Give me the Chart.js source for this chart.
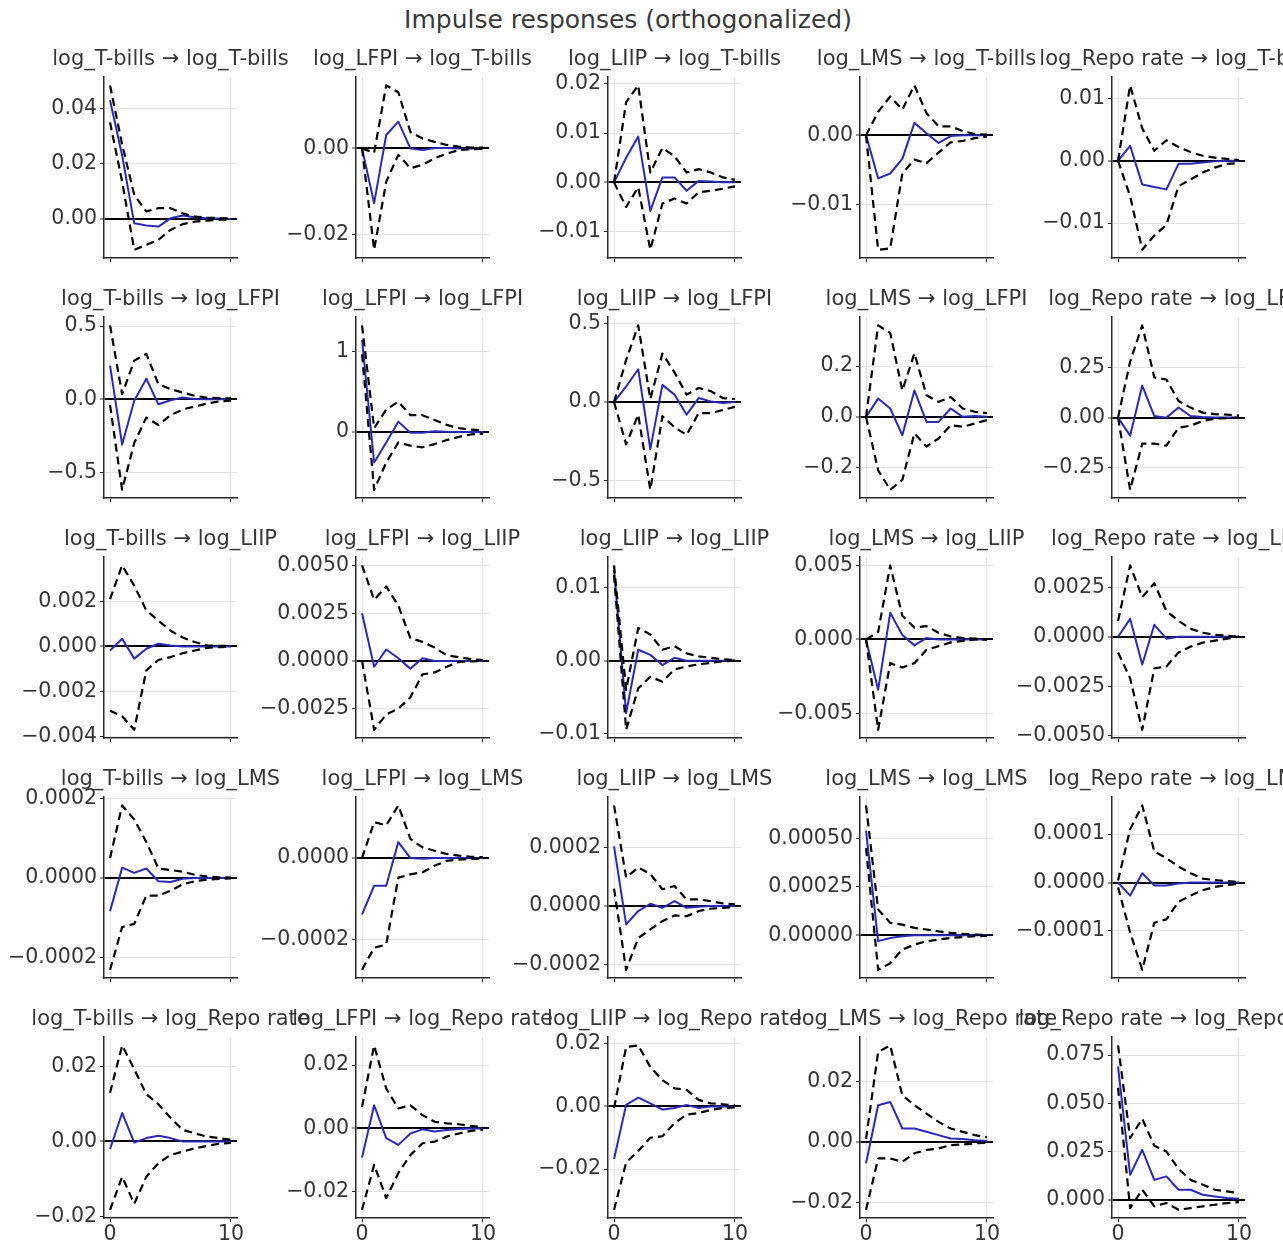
<!DOCTYPE html>
<html>
<head>
<meta charset="utf-8">
<script src="https://cdn.jsdelivr.net/npm/chart.js@4.4.1/dist/chart.umd.min.js"></script>
<style>
  html, body { margin: 0; padding: 0; background: #fff; overflow: hidden; width: 1283px; height: 1245px; }
  #wrap { position: relative; width: 1283px; height: 1245px; overflow: hidden; background: #fff; }
  #suptitle { position: absolute; left: 0; top: 5px; width: 1256px; text-align: center;
              font-family: 'DejaVu Sans', sans-serif; font-size: 25px; line-height: 30px; color: #3a3a3a; }
  canvas { position: absolute; }
</style>
</head>
<body>
<div id="wrap"><div id="suptitle">Impulse responses (orthogonalized)</div></div>
<script>
// ---------- DATA ----------
const variables = ['log_T-bills', 'log_LFPI', 'log_LIIP', 'log_LMS', 'log_Repo rate'];
const steps = [0, 1, 2, 3, 4, 5, 6, 7, 8, 9, 10];
const xTicks = [0, 10];

// Each array below: one response variable, one row per impulse (T-bills, LFPI, LIIP, LMS, Repo rate)
const irf_Tbills = [
  [0.043, 0.023, -0.0016, -0.0024, -0.0028, 0.0002, 0.0012, 0.0006, 0.0002, 0.0001, 0],
  [0, -0.0127, 0.0031, 0.0062, 0.0, -0.0004, 0.0001, 0.0001, 0, 0, 0],
  [0, 0.005, 0.0093, -0.0058, 0.001, 0.001, -0.0017, 0.0003, 0.0002, 0, 0],
  [0, -0.0062, -0.0055, -0.0034, 0.0018, 0.0003, -0.0011, -0.0001, 0, 0, 0],
  [0, 0.0024, -0.0038, -0.0042, -0.0046, -0.0005, -0.0005, -0.0003, -0.0001, 0, 0]
];
const lower_Tbills = [
  [0.035, 0.0135, -0.0112, -0.0094, -0.0076, -0.004, -0.0019, -0.001, -0.0006, -0.0003, -0.0002],
  [0, -0.0235, -0.0077, -0.0015, -0.0046, -0.0038, -0.0023, -0.0012, -0.0004, -0.0002, -0.0001],
  [0, -0.005, -0.001, -0.0137, -0.0043, -0.0033, -0.0043, -0.002, -0.0017, -0.0013, -0.0008],
  [0, -0.0165, -0.0163, -0.0055, -0.0035, -0.004, -0.0025, -0.001, -0.0008, -0.0004, -0.0002],
  [0, -0.0057, -0.0143, -0.012, -0.0103, -0.0041, -0.003, -0.0019, -0.0011, -0.0005, -0.0004]
];
const upper_Tbills = [
  [0.0484, 0.027, 0.0087, 0.0027, 0.0039, 0.0039, 0.002, 0.0008, 0.0005, 0.0003, 0.0002],
  [0, -0.001, 0.0146, 0.013, 0.0038, 0.0023, 0.0015, 0.0008, 0.0004, 0.0002, 0.0002],
  [0, 0.0163, 0.0197, 0.002, 0.007, 0.0053, 0.002, 0.0027, 0.002, 0.001, 0.0005],
  [0, 0.0034, 0.0056, 0.0037, 0.0072, 0.0032, 0.0013, 0.0013, 0.0006, 0.0002, 0.0001],
  [0, 0.0121, 0.0052, 0.0016, 0.0033, 0.0022, 0.0014, 0.0008, 0.0005, 0.0003, 0.0001]
];

const irf_LFPI = [
  [0.23, -0.31, -0.01, 0.14, -0.035, -0.007, 0.011, 0.002, 0, 0, 0],
  [1.15, -0.38, -0.13, 0.13, -0.01, -0.01, 0.01, 0.003, 0, 0, 0],
  [0, 0.1, 0.21, -0.3, 0.11, 0.048, -0.08, 0.026, 0.004, -0.006, 0],
  [0, 0.072, 0.033, -0.072, 0.104, -0.02, -0.02, 0.033, 0, 0.003, 0],
  [0, -0.09, 0.16, 0.008, 0, 0.05, 0.008, 0.003, 0, 0, 0]
];
const lower_LFPI = [
  [-0.04, -0.62, -0.3, -0.126, -0.177, -0.11, -0.07, -0.05, -0.03, -0.015, -0.01],
  [0.97, -0.72, -0.38, -0.13, -0.17, -0.19, -0.15, -0.1, -0.06, -0.03, -0.02],
  [0, -0.27, -0.08, -0.56, -0.09, -0.16, -0.21, -0.07, -0.07, -0.05, -0.03],
  [0, -0.21, -0.287, -0.248, -0.065, -0.117, -0.085, -0.033, -0.039, -0.026, -0.013],
  [0, -0.36, -0.13, -0.13, -0.14, -0.05, -0.04, -0.017, -0.005, -0.003, 0]
];
const upper_LFPI = [
  [0.505, 0.034, 0.264, 0.31, 0.103, 0.069, 0.046, 0.023, 0.011, 0.007, 0.005],
  [1.33, 0.05, 0.28, 0.38, 0.21, 0.21, 0.15, 0.09, 0.05, 0.03, 0.02],
  [0, 0.27, 0.49, 0.02, 0.31, 0.19, 0.048, 0.09, 0.07, 0.026, 0.02],
  [0, 0.36, 0.33, 0.104, 0.25, 0.085, 0.059, 0.078, 0.033, 0.02, 0.015],
  [0, 0.28, 0.46, 0.2, 0.19, 0.083, 0.05, 0.025, 0.017, 0.015, 0.01]
];

const irf_LIIP = [
  [-0.00018, 0.00034, -0.00054, -0.0001, 0.00012, 0.00004, 0, 0, 0, 0, 0],
  [0.0025, -0.0003, 0.0006, 0.00014, -0.0004, 0.00014, 0, 0, 0, 0, 0],
  [0.0125, -0.0072, 0.0015, 0.0008, -0.0006, 0.0004, 0, 0, 0, 0, 0],
  [0, -0.0034, 0.0018, 0.0003, -0.0004, 0.0001, 0, 0, 0, 0, 0],
  [0, 0.0009, -0.0014, 0.0006, -0.0001, 0, 0, 0, 0, 0, 0]
];
const lower_LIIP = [
  [-0.00285, -0.0031, -0.0037, -0.00106, -0.0006, -0.00047, -0.0003, -0.00018, -0.00006, -0.00003, -0.00002],
  [0, -0.0036, -0.0028, -0.0025, -0.0019, -0.0007, -0.0006, -0.0003, -0.00005, -0.00002, 0],
  [0.0118, -0.0095, -0.0038, -0.0022, -0.0029, -0.0012, -0.0008, -0.0005, -0.0003, -0.0001, 0],
  [0, -0.0061, -0.0016, -0.0019, -0.0016, -0.0007, -0.00045, -0.0002, -0.0001, 0, 0],
  [-0.0008, -0.0021, -0.0047, -0.0016, -0.0015, -0.0008, -0.0005, -0.0003, -0.0002, -0.0001, 0]
];
const upper_LIIP = [
  [0.0021, 0.0036, 0.0027, 0.0016, 0.00115, 0.0007, 0.0004, 0.0002, 0.00005, 0.00003, 0.00002],
  [0.005, 0.0032, 0.0039, 0.0029, 0.0012, 0.001, 0.0007, 0.0003, 0.0002, 0.0001, 0.00005],
  [0.0131, -0.004, 0.0045, 0.0036, 0.0015, 0.002, 0.001, 0.0006, 0.0004, 0.0002, 0.0001],
  [0, 0.0005, 0.005, 0.0016, 0.0008, 0.0009, 0.00045, 0.0002, 0.0001, 0.00005, 0],
  [0.0008, 0.0036, 0.002, 0.0027, 0.0013, 0.0008, 0.0004, 0.0002, 0.0001, 0.00005, 0]
];

const irf_LMS = [
  [-0.000083, 0.000026, 0.000013, 0.000024, -0.000008, -0.00001, -0.000002, 0, 0, 0, 0],
  [-0.000138, -0.000068, -0.000068, 0.000039, 0, -0.000002, 0, 0, 0, 0, 0],
  [0.000205, -0.000063, -0.000017, 0.000008, -0.000006, 0.000017, -0.000006, -0.000002, 0, 0, 0],
  [0.00054, -0.00003, -0.000014, -0.000005, 0, 0, 0, 0, 0, 0, 0],
  [0, -0.000027, 0.000019, -0.000006, -0.000006, -0.000002, 0, 0, 0, 0, 0]
];
const lower_LMS = [
  [-0.00023, -0.000123, -0.000115, -0.000044, -0.000044, -0.000032, -0.000016, -0.000008, -0.000004, -0.000002, -0.000001],
  [-0.000274, -0.00022, -0.000212, -0.000048, -0.00004, -0.000035, -0.000019, -0.000007, -0.000004, -0.000002, -0.000001],
  [0.00006, -0.000219, -0.00011, -0.00008, -0.000052, -0.000032, -0.000035, -0.000017, -0.000009, -0.000006, -0.000003],
  [0.00045, -0.000178, -0.000144, -0.000074, -0.000048, -0.000031, -0.000022, -0.000014, -0.000009, -0.000005, -0.000003],
  [-0.00001, -0.000103, -0.00018, -0.000083, -0.000076, -0.00004, -0.000027, -0.000016, -0.000009, -0.000005, -0.000003]
];
const upper_LMS = [
  [0.00005, 0.000182, 0.000147, 0.00009, 0.000024, 0.00002, 0.000016, 0.000008, 0.000004, 0.000002, 0.000001],
  [0, 0.000088, 0.00008, 0.000129, 0.000047, 0.000026, 0.000018, 0.00001, 0.000006, 0.000003, 0.000002],
  [0.000346, 0.000098, 0.000133, 0.00011, 0.000058, 0.000069, 0.000023, 0.000023, 0.000017, 0.000009, 0.000006],
  [0.00067, 0.000133, 0.000064, 0.000055, 0.000038, 0.00003, 0.00002, 0.000012, 0.000007, 0.000004, 0.000002],
  [0.000004, 0.00011, 0.000159, 0.000064, 0.00005, 0.000033, 0.000019, 0.000008, 0.000005, 0.000003, 0.000001]
];

const irf_Repo = [
  [-0.002, 0.0076, -0.0003, 0.0009, 0.0015, 0.0009, 0, 0, 0, 0, 0],
  [-0.0092, 0.0073, -0.0031, -0.0052, -0.0016, -0.0003, -0.001, -0.0005, -0.0002, 0, 0],
  [-0.0168, 0.0005, 0.0028, 0.001, -0.001, -0.0005, 0.0005, -0.0005, 0, 0, 0],
  [-0.0071, 0.0121, 0.0132, 0.0044, 0.0044, 0.0033, 0.0022, 0.0011, 0.0009, 0.0005, 0.0003],
  [0.069, 0.0129, 0.0259, 0.0103, 0.0121, 0.0052, 0.0052, 0.0026, 0.0017, 0.0009, 0.0005]
];
const lower_Repo = [
  [-0.0182, -0.0094, -0.0166, -0.0094, -0.0058, -0.0036, -0.0027, -0.0018, -0.0012, -0.0006, -0.0004],
  [-0.0257, -0.0115, -0.022, -0.0141, -0.0084, -0.0047, -0.0042, -0.0026, -0.0016, -0.0008, -0.0004],
  [-0.033, -0.0179, -0.0142, -0.01, -0.0095, -0.0053, -0.0026, -0.0021, -0.0011, -0.0005, -0.0003],
  [-0.0225, -0.0055, -0.0055, -0.0066, -0.0038, -0.0027, -0.0022, -0.0011, -0.0009, -0.0005, -0.0003],
  [0.058, -0.0043, 0.0052, -0.0034, -0.0017, -0.0052, -0.0043, -0.0034, -0.0026, -0.0017, -0.0012]
];
const upper_Repo = [
  [0.013, 0.0256, 0.0193, 0.0126, 0.0099, 0.0063, 0.0031, 0.0022, 0.0013, 0.0009, 0.0005],
  [0.0068, 0.0262, 0.0126, 0.0063, 0.0073, 0.0042, 0.0021, 0.0016, 0.0013, 0.0008, 0.0004],
  [-0.0005, 0.019, 0.0195, 0.0126, 0.0084, 0.0058, 0.0053, 0.0021, 0.001, 0.0007, 0.0004],
  [0.001, 0.0297, 0.0319, 0.0154, 0.0121, 0.0093, 0.0066, 0.0044, 0.0033, 0.0022, 0.0015],
  [0.08, 0.032, 0.042, 0.028, 0.025, 0.016, 0.0103, 0.0078, 0.0052, 0.0043, 0.0035]
];

// y tick values per panel (row = response, entry = impulse)
const yticks_Tbills = [[0, 0.02, 0.04], [-0.02, 0], [-0.01, 0, 0.01, 0.02], [-0.01, 0], [-0.01, 0, 0.01]];
const yticks_LFPI   = [[-0.5, 0, 0.5], [0, 1], [-0.5, 0, 0.5], [-0.2, 0, 0.2], [-0.25, 0, 0.25]];
const yticks_LIIP   = [[-0.004, -0.002, 0, 0.002], [-0.0025, 0, 0.0025, 0.005], [-0.01, 0, 0.01], [-0.005, 0, 0.005], [-0.005, -0.0025, 0, 0.0025]];
const yticks_LMS    = [[-0.0002, 0, 0.0002], [-0.0002, 0], [-0.0002, 0, 0.0002], [0, 0.00025, 0.0005], [-0.0001, 0, 0.0001]];
const yticks_Repo   = [[-0.02, 0, 0.02], [-0.02, 0, 0.02], [-0.02, 0, 0.02], [-0.02, 0, 0.02], [0, 0.025, 0.05, 0.075]];

const IRF   = [irf_Tbills, irf_LFPI, irf_LIIP, irf_LMS, irf_Repo];
const LOWER = [lower_Tbills, lower_LFPI, lower_LIIP, lower_LMS, lower_Repo];
const UPPER = [upper_Tbills, upper_LFPI, upper_LIIP, upper_LMS, upper_Repo];
const YTICKS = [yticks_Tbills, yticks_LFPI, yticks_LIIP, yticks_LMS, yticks_Repo];

// ---------- LAYOUT / STYLE ----------
const AX_LEFT0 = 104, AX_DX = 252, AX_TOP0 = 77, AX_DY = 240, AX_W = 133, AX_H = 181;
const SIDE = 112, TITLE_BOX = 36, XAXIS_BOX = 32;
const BLUE = '#2a2ab8';
const TEXT = '#363636';
const GRID = '#e4e4e4';
const SPINE = '#2a2a2a';
const FONT = "'DejaVu Sans', sans-serif";

Chart.defaults.font.family = FONT;
Chart.defaults.color = TEXT;

function decimalsFor(ticks) {
  let d = 0;
  ticks.forEach(t => {
    const s = String(Math.abs(t));
    const i = s.indexOf('.');
    if (i >= 0) d = Math.max(d, s.length - i - 1);
  });
  return d;
}
function fmt(v, d) {
  const s = Math.abs(v).toFixed(d);
  return (v < -1e-15 ? '\u2212' : '') + s;
}

const wrap = document.getElementById('wrap');

function build(r, c, W, H) {
  const canvas = document.createElement('canvas');
  canvas.width = W; canvas.height = H;
  canvas.style.width = W + 'px'; canvas.style.height = H + 'px';
  wrap.appendChild(canvas);

  const irf = IRF[r][c], lo = LOWER[r][c], up = UPPER[r][c];
  const all = irf.concat(lo, up);
  const dmin = Math.min(...all), dmax = Math.max(...all), span = dmax - dmin;
  const ymin = dmin - 0.05 * span, ymax = dmax + 0.05 * span;
  const ticks = YTICKS[r][c];
  const dec = decimalsFor(ticks);
  const pts = arr => arr.map((v, i) => ({ x: steps[i], y: v }));
  const bottomRow = (r === variables.length - 1);

  const dashed = {
    borderColor: '#000', borderWidth: 2.2, borderDash: [8, 5], borderCapStyle: 'butt',
    borderJoinStyle: 'round', pointRadius: 0, tension: 0, fill: false
  };

  const chart = new Chart(canvas, {
    type: 'line',
    data: {
      datasets: [
        Object.assign({ data: pts(lo) }, dashed),
        Object.assign({ data: pts(up) }, dashed),
        { data: pts(irf), borderColor: BLUE, borderWidth: 2, pointRadius: 0, tension: 0,
          fill: false, borderJoinStyle: 'round' }
      ]
    },
    options: {
      responsive: false, maintainAspectRatio: false, animation: false, devicePixelRatio: 1,
      layout: { padding: 0 },
      events: [],
      plugins: {
        legend: { display: false },
        tooltip: { enabled: false },
        title: {
          display: true,
          text: variables[c] + ' \u2192 ' + variables[r],
          color: TEXT,
          font: { family: FONT, size: 21, weight: 'normal', lineHeight: 1.2 },
          padding: { top: 6, bottom: 5 }
        }
      },
      scales: {
        x: {
          type: 'linear', min: -0.5, max: 10.5,
          afterBuildTicks: s => { s.ticks = xTicks.map(v => ({ value: v })); },
          afterFit: s => { s.height = XAXIS_BOX; },
          ticks: { display: bottomRow, color: TEXT, font: { family: FONT, size: 20.5 }, padding: 0,
                   maxRotation: 0, autoSkip: false, callback: v => String(v) },
          grid: { color: GRID, lineWidth: 1, tickLength: 4, tickColor: SPINE, tickWidth: 1 },
          border: { color: SPINE, width: 1.5 }
        },
        y: {
          position: 'left', min: ymin, max: ymax,
          afterBuildTicks: s => { s.ticks = ticks.map(v => ({ value: v })); },
          afterFit: s => { s.width = SIDE; },
          ticks: { color: TEXT, font: { family: FONT, size: 20.5 }, padding: 3, autoSkip: false,
                   callback: v => fmt(v, dec) },
          grid: {
            color: ctx => (ctx.tick && Math.abs(ctx.tick.value) < 1e-15) ? '#000' : GRID,
            lineWidth: ctx => (ctx.tick && Math.abs(ctx.tick.value) < 1e-15) ? 2 : 1,
            tickLength: 4, tickColor: SPINE, tickWidth: 1
          },
          border: { color: SPINE, width: 1.5 }
        },
        yRight: {
          position: 'right', display: true, min: 0, max: 1,
          afterFit: s => { s.width = SIDE; },
          ticks: { display: false },
          grid: { display: false, drawTicks: false },
          border: { display: false }
        }
      }
    }
  });
  return { chart, canvas };
}

for (let r = 0; r < variables.length; r++) {
  for (let c = 0; c < variables.length; c++) {
    let W = SIDE * 2 + AX_W, H = TITLE_BOX + AX_H + XAXIS_BOX;
    let res = build(r, c, W, H);
    let ca = res.chart.chartArea;
    const dw = AX_W - (ca.right - ca.left), dh = AX_H - (ca.bottom - ca.top);
    if (Math.abs(dw) > 0.5 || Math.abs(dh) > 0.5) {
      res.chart.destroy(); res.canvas.remove();
      W += Math.round(dw); H += Math.round(dh);
      res = build(r, c, W, H);
      ca = res.chart.chartArea;
    }
    res.canvas.style.left = (AX_LEFT0 + c * AX_DX - ca.left) + 'px';
    res.canvas.style.top = (AX_TOP0 + r * AX_DY - ca.top) + 'px';
  }
}
</script>
</body>
</html>
